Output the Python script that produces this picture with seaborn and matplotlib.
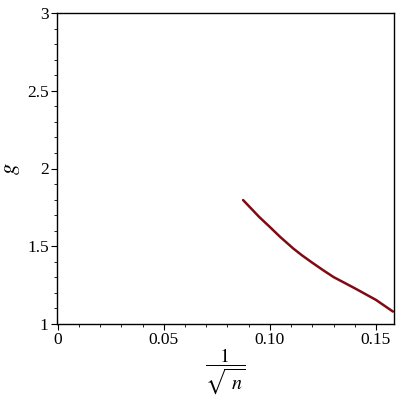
import matplotlib
matplotlib.use("Agg")
import matplotlib.pyplot as plt
import seaborn as sns
import pandas as pd
from matplotlib.ticker import MultipleLocator, FixedLocator, FixedFormatter

inv_sqrt_n = [0.0874, 0.095, 0.100, 0.1047, 0.111, 0.115, 0.120, 0.125, 0.130, 0.140, 0.1456, 0.150, 0.1580]
g_values = [1.797, 1.688, 1.624, 1.562, 1.486, 1.443, 1.394, 1.347, 1.302, 1.230, 1.188, 1.155, 1.080]
x_ticks = [0, 0.05, 0.10, 0.15]
x_tick_labels = ["0", "0.05", "0.10", "0.15"]
y_ticks = [1, 1.5, 2, 2.5, 3]
y_tick_labels = ["1", "1.5", "2", "2.5", "3"]

sns.set_style("ticks")
plt.rcParams['font.family'] = ['Liberation Serif', 'DejaVu Serif']
plt.rcParams['mathtext.fontset'] = 'stix'
plt.rcParams['text.color'] = 'black'
plt.rcParams['axes.labelcolor'] = 'black'
plt.rcParams['xtick.color'] = 'black'
plt.rcParams['ytick.color'] = 'black'

df = pd.DataFrame({"x": inv_sqrt_n, "g": g_values})

fig = plt.figure(figsize=(4, 4), dpi=100)
ax = fig.add_axes([0.1425, 0.19, 0.8425, 0.7775])
sns.lineplot(data=df, x="x", y="g", ax=ax, color="#7f0a14", linewidth=1.8, estimator=None, sort=False)

ax.set_xlim(-0.0003, 0.1585)
ax.set_ylim(1, 3)
ax.xaxis.set_major_locator(FixedLocator(x_ticks))
ax.xaxis.set_major_formatter(FixedFormatter(x_tick_labels))
ax.xaxis.set_minor_locator(MultipleLocator(0.01))
ax.yaxis.set_major_locator(FixedLocator(y_ticks))
ax.yaxis.set_major_formatter(FixedFormatter(y_tick_labels))
ax.yaxis.set_minor_locator(MultipleLocator(0.1))

for s in ax.spines.values():
    s.set_visible(True)
    s.set_linewidth(1.0)
    s.set_color("black")

ax.tick_params(axis="both", which="major", length=4, width=0.8, labelsize=12.5, direction="out", pad=2,
               colors="black")
ax.tick_params(axis="both", which="minor", length=2.5, width=0.6, direction="out", colors="black")

ax.set_xlabel(r"$\dfrac{1}{\sqrt{\ n}}$", fontsize=14.5, color="black")
ax.xaxis.set_label_coords(0.498, -0.072)
ax.set_ylabel(r"$g$", fontsize=16, color="black")
ax.yaxis.set_label_coords(-0.105, 0.5)

fig.savefig("out.png", dpi=100)
